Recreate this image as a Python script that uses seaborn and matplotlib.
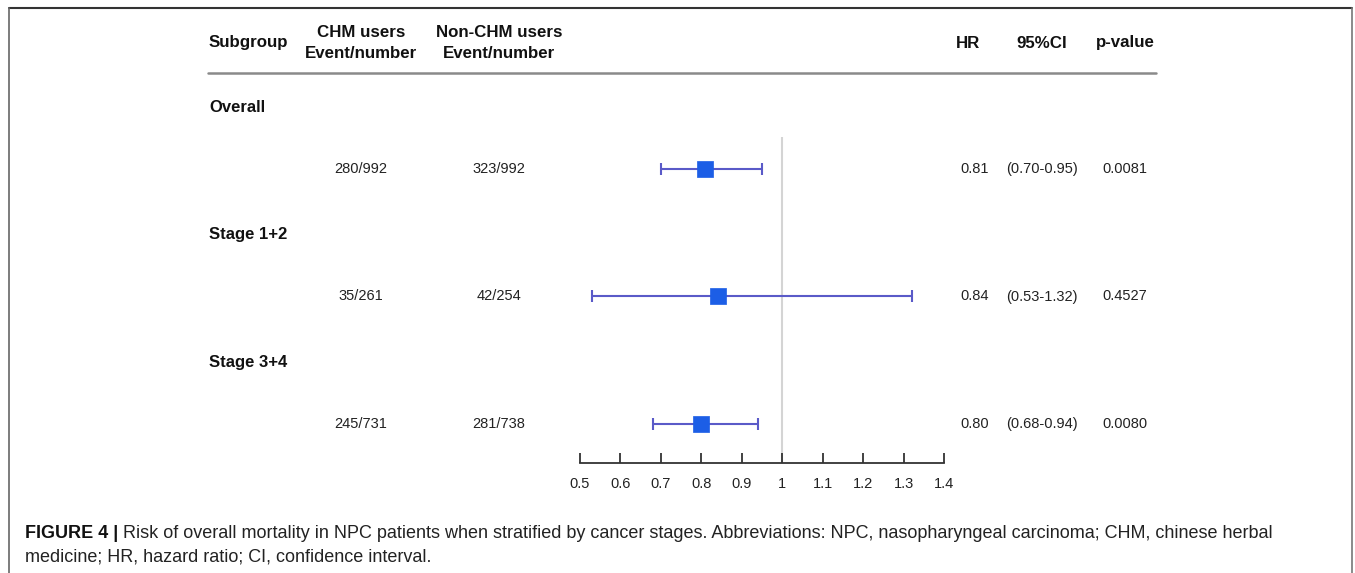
import matplotlib
matplotlib.use("Agg")
import matplotlib.pyplot as plt
import seaborn as sns
import pandas as pd

# data
subgroups = ["Overall", "Stage 1+2", "Stage 3+4"]
chm_events = ["280/992", "35/261", "245/731"]
non_chm_events = ["323/992", "42/254", "281/738"]
hr = [0.81, 0.84, 0.80]
ci_low = [0.70, 0.53, 0.68]
ci_high = [0.95, 1.32, 0.94]
ci_text = ["(0.70-0.95)", "(0.53-1.32)", "(0.68-0.94)"]
p_values = ["0.0081", "0.4527", "0.0080"]
x_ticks = [0.5, 0.6, 0.7, 0.8, 0.9, 1.0, 1.1, 1.2, 1.3, 1.4]
x_ticklabels = ["0.5", "0.6", "0.7", "0.8", "0.9", "1", "1.1", "1.2", "1.3", "1.4"]

df = pd.DataFrame({"row": range(len(subgroups)), "hr": hr,
                   "lo": ci_low, "hi": ci_high})

sns.set_theme(style="white")
plt.rcParams["font.family"] = ["Liberation Sans", "DejaVu Sans"]

W, H = 1355, 573
fig = plt.figure(figsize=(W / 100, H / 100), dpi=100)

# canvas axes in pixel units for table text
cv = fig.add_axes([0, 0, 1, 1])
cv.set_xlim(0, W)
cv.set_ylim(H, 0)
cv.axis("off")

# frame around figure panel
cv.plot([9, 1352], [8, 8], color="#333333", lw=1.5)
cv.plot([9, 9], [8, H], color="#666666", lw=1.2)
cv.plot([1352, 1352], [8, H], color="#777777", lw=1.2)

hdr = dict(fontsize=12.2, fontweight="bold", color="#111111")
cv.text(209, 43, "Subgroup", ha="left", va="center", **hdr)
cv.text(361, 43, "CHM users\nEvent/number", ha="center", va="center",
        linespacing=1.45, **hdr)
cv.text(499, 43, "Non-CHM users\nEvent/number", ha="center", va="center",
        linespacing=1.45, **hdr)
cv.text(968, 43, "HR", ha="center", va="center", **hdr)
cv.text(1042, 43, "95%CI", ha="center", va="center", **hdr)
cv.text(1125, 43, "p-value", ha="center", va="center", **hdr)
cv.plot([208, 1156], [73, 73], color="#8a8a8a", lw=1.8)

# forest axes
fa = fig.add_axes([580 / W, 1 - 463 / H, (944 - 580) / W, (463 - 137) / H])
fa.set_xlim(0.5, 1.4)
top, bottom = -0.251, 2.306
fa.set_ylim(bottom, top)
fa.patch.set_alpha(0)

row_px0, row_step = 169, 127.5
txt = dict(fontsize=10.5, color="#222222", va="center")
for i, name in enumerate(subgroups):
    y = row_px0 + row_step * i
    cv.text(209, y - 62, name, ha="left", fontsize=12, fontweight="bold",
            color="#111111", va="center")
    cv.text(361, y, chm_events[i], ha="center", **txt)
    cv.text(499, y, non_chm_events[i], ha="center", **txt)
    cv.text(975, y, f"{hr[i]:.2f}", ha="center", **txt)
    cv.text(1042, y, ci_text[i], ha="center", **txt)
    cv.text(1125, y, p_values[i], ha="center", **txt)

fa.axvline(1.0, color="#d4d4d4", lw=1.5, zorder=0)
fa.errorbar(df["hr"], df["row"], xerr=[df["hr"] - df["lo"], df["hi"] - df["hr"]],
            fmt="none", ecolor="#5a5ac8", elinewidth=1.5, capsize=4,
            capthick=1.5, zorder=2)
sns.scatterplot(data=df, x="hr", y="row", marker="s", s=125, color="#1c5ee6",
                edgecolor="#1c5ee6", linewidth=0.5, zorder=3, ax=fa, legend=False)

for s in ["top", "left", "right"]:
    fa.spines[s].set_visible(False)
fa.spines["bottom"].set_color("#333333")
fa.spines["bottom"].set_linewidth(1.3)
fa.set_xticks(x_ticks)
fa.set_xticklabels(x_ticklabels)
fa.set_yticks([])
fa.set_xlabel("")
fa.set_ylabel("")
fa.tick_params(axis="x", direction="in", length=7, width=1.3, color="#333333",
               pad=10, labelsize=10.5, labelcolor="#222222", bottom=True)

# caption
cap_y1, cap_y2 = 533, 557
t1 = cv.text(25, cap_y1, "FIGURE 4 |", ha="left", va="center", fontsize=13,
             fontweight="bold", color="#111111")
fig.canvas.draw()
bb = t1.get_window_extent()
x_after = bb.x1 + 5
cv.text(x_after, cap_y1,
        "Risk of overall mortality in NPC patients when stratified by cancer stages. "
        "Abbreviations: NPC, nasopharyngeal carcinoma; CHM, chinese herbal",
        ha="left", va="center", fontsize=13, color="#222222")
cv.text(25, cap_y2, "medicine; HR, hazard ratio; CI, confidence interval.",
        ha="left", va="center", fontsize=13, color="#222222")

fig.savefig("out.png", dpi=100)
